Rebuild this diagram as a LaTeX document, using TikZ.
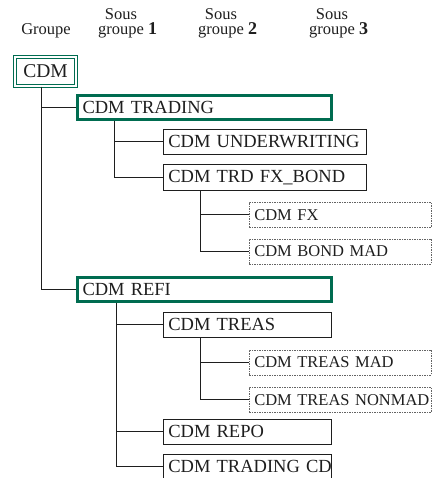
\documentclass[tikz,border=0pt]{standalone}
\usepackage{fontspec}
\setmainfont{Liberation Serif}
\usetikzlibrary{positioning}

\definecolor{cdmGreen}{RGB}{0,108,80}
\definecolor{inkGrey}{RGB}{30,30,30}
\definecolor{dashGrey}{RGB}{100,100,100}

% level number after "groupe", balanced so that "Sous" sits over "groupe"
\newcommand{\levelnum}[1]{\phantom{\textbf{\fontsize{18}{15}\selectfont #1}~}groupe~\textbf{\fontsize{18}{15}\selectfont #1}}

\begin{document}
\begin{tikzpicture}[
  x=1pt, y=-1pt,
  every node/.style={text=inkGrey},
  head/.style={align=center, inner sep=0pt, font=\fontsize{16.5}{15}\selectfont},
  % one line per box, never wrapped
  entity/.style={anchor=north west, minimum height=25pt, inner xsep=5pt, inner ysep=0pt, align=left,
    font=\fontsize{18.5}{20}\selectfont, execute at begin node={\hbox\bgroup}, execute at end node={\egroup}},
  solidbox/.style={entity, draw=inkGrey, line width=0.7pt},
  dashbox/.style={entity, draw=dashGrey, line width=0.6pt, dash pattern=on 1.5pt off 1pt, font=\fontsize{16.5}{18}\selectfont},
  greenbox/.style={entity, draw=cdmGreen, line width=3pt, minimum height=24pt},
  rootbox/.style={anchor=north west, draw=cdmGreen, double=white, double distance=1.4pt, line width=1.4pt, minimum width=61pt, minimum height=29pt, inner sep=0pt, font=\fontsize{19.5}{20}\selectfont},
  link/.style={draw=inkGrey, line width=0.8pt}
]
\useasboundingbox (0,0) rectangle (432,478);

% Column headers
\node[head] (groupe) at (46,31) {Groupe};
\node[head] (sg1) at (121,23) {Sous\\\levelnum{1}};
\node[head] (sg2) at (221,23) {Sous\\\levelnum{2}};
\node[head] (sg3) at (332,23) {Sous\\\levelnum{3}};

% Group
\node[rootbox] (cdm) at (14.4,56.4) {CDM};

% Sub-groups level 1
\node[greenbox, text width=244pt] (trading) at (76,94) {CDM TRADING};
\node[greenbox, text width=244pt] (refi) at (76,276) {CDM REFI};

% Sub-groups level 2
\node[solidbox, text width=193pt] (underwriting) at (163,129) {CDM UNDERWRITING};
\node[solidbox, text width=193pt] (fxbond) at (163,164.5) {CDM TRD FX\_BOND};
\node[solidbox, text width=158pt] (treas) at (163,312) {CDM TREAS};
\node[solidbox, text width=158pt] (repo) at (163,419) {CDM REPO};
\node[solidbox, text width=158pt] (tradingcd) at (163,454) {CDM TRADING CD};

% Sub-groups level 3
\node[dashbox, text width=172pt] (fx) at (249,202) {CDM FX};
\node[dashbox, text width=172pt] (bondmad) at (249,238.5) {CDM BOND MAD};
\node[dashbox, text width=172pt] (treasmad) at (249,349.5) {CDM TREAS MAD};
\node[dashbox, text width=172pt] (treasnonmad) at (249,387) {CDM TREAS NONMAD};

% Tree links
\draw[link] ([xshift=-4pt]cdm.south) |- (trading.west);
\draw[link] ([xshift=-4pt]cdm.south) |- (refi.west);
\draw[link] ([xshift=38pt]trading.south west) |- (underwriting.west);
\draw[link] ([xshift=38pt]trading.south west) |- (fxbond.west);
\draw[link] ([xshift=37pt]fxbond.south west) |- (fx.west);
\draw[link] ([xshift=37pt]fxbond.south west) |- (bondmad.west);
\draw[link] ([xshift=40pt]refi.south west) |- (treas.west);
\draw[link] ([xshift=40pt]refi.south west) |- (repo.west);
\draw[link] ([xshift=40pt]refi.south west) |- (tradingcd.west);
\draw[link] ([xshift=37pt]treas.south west) |- (treasmad.west);
\draw[link] ([xshift=37pt]treas.south west) |- (treasnonmad.west);

\end{tikzpicture}
\end{document}
